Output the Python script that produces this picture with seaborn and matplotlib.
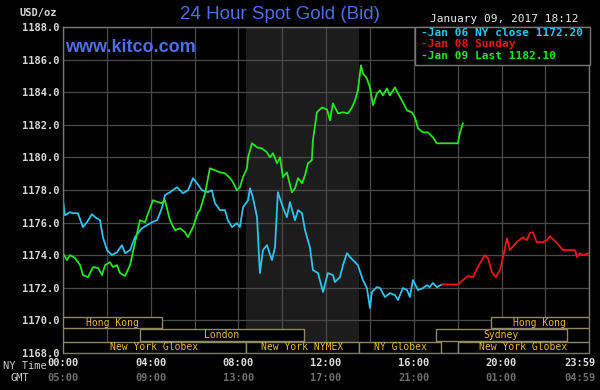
import pandas as pd
import matplotlib.pyplot as plt
import seaborn as sns
from matplotlib.patches import Rectangle
from matplotlib.transforms import offset_copy

# NY time in hours, bid in USD/oz
jan06_hour = [0.00, 0.09, 0.32, 0.46, 0.68, 0.91, 1.09, 1.32, 1.46, 1.69, 1.82, 2.01, 2.23, 2.46,
              2.69, 2.83, 3.06, 3.28, 3.60, 3.83, 4.06, 4.29, 4.51, 4.65, 4.88, 5.20, 5.47, 5.70,
              5.93, 6.11, 6.34, 6.61, 6.79, 6.93, 7.16, 7.39, 7.52, 7.71, 7.93, 8.07, 8.21, 8.44,
              8.53, 8.66, 8.85, 8.98, 9.12, 9.30, 9.53, 9.67, 9.80, 10.03, 10.21, 10.35, 10.58,
              10.72, 10.90, 11.04, 11.26, 11.40, 11.63, 11.86, 12.08, 12.31, 12.40, 12.63, 12.77,
              12.95, 13.09, 13.22, 13.45, 13.68, 13.86, 14.00, 14.09, 14.32, 14.46, 14.68, 14.91,
              15.14, 15.28, 15.50, 15.69, 15.82, 15.96, 16.19, 16.42, 16.60, 16.73, 16.87, 17.05,
              17.28]
jan06_bid = [1177.37, 1176.45, 1176.63, 1176.57, 1176.57, 1175.72, 1176.02, 1176.51, 1176.33,
             1176.14, 1175.10, 1174.31, 1174.00, 1174.18, 1174.61, 1174.12, 1174.31, 1175.10,
             1175.65, 1175.84, 1176.02, 1176.14, 1176.88, 1177.68, 1177.86, 1178.17, 1177.80,
             1177.98, 1178.72, 1178.41, 1177.98, 1177.86, 1177.98, 1177.19, 1176.76, 1176.76,
             1176.14, 1175.72, 1175.96, 1175.72, 1176.94, 1177.37, 1178.10, 1177.55, 1176.33,
             1172.90, 1174.31, 1174.61, 1173.70, 1174.49, 1177.86, 1176.94, 1176.33, 1177.25,
             1176.14, 1176.76, 1176.57, 1175.53, 1174.49, 1173.08, 1172.90, 1171.74, 1172.90,
             1172.78, 1172.35, 1172.65, 1173.39, 1174.12, 1173.88, 1173.70, 1173.39, 1172.47,
             1171.98, 1170.76, 1171.74, 1172.04, 1171.98, 1171.43, 1171.67, 1171.55, 1171.25,
             1171.98, 1171.86, 1171.43, 1172.47, 1171.86, 1171.98, 1172.16, 1172.04, 1172.29,
             1172.04, 1172.20]

jan08_hour = [17.28, 18.01, 18.24, 18.47, 18.70, 18.92, 19.24, 19.38, 19.56, 19.74, 19.93, 20.06,
              20.25, 20.38, 20.70, 20.98, 21.16, 21.29, 21.43, 21.61, 21.89, 22.07, 22.21, 22.53,
              22.80, 23.12, 23.35, 23.44, 23.58, 23.71, 23.98]
jan08_bid = [1172.20, 1172.20, 1172.47, 1172.72, 1172.65, 1173.27, 1174.00, 1173.82, 1172.96,
             1172.65, 1173.08, 1173.82, 1175.04, 1174.31, 1174.80, 1175.10, 1174.92, 1175.35,
             1175.41, 1174.80, 1174.80, 1174.92, 1175.16, 1174.74, 1174.31, 1174.31, 1174.31,
             1173.88, 1174.12, 1174.00, 1174.12]

jan09_hour = [0.00, 0.18, 0.32, 0.55, 0.78, 0.91, 1.14, 1.37, 1.60, 1.78, 1.92, 2.14, 2.28, 2.46,
              2.60, 2.83, 3.06, 3.28, 3.51, 3.74, 3.97, 4.10, 4.33, 4.51, 4.65, 4.88, 5.11, 5.34,
              5.56, 5.70, 5.93, 6.16, 6.25, 6.48, 6.70, 6.93, 7.16, 7.39, 7.62, 7.75, 7.93, 8.07,
              8.21, 8.39, 8.44, 8.62, 8.85, 9.07, 9.30, 9.44, 9.58, 9.76, 9.90, 10.03, 10.21,
              10.44, 10.58, 10.72, 10.90, 11.04, 11.17, 11.35, 11.40, 11.58, 11.81, 12.04, 12.18,
              12.31, 12.54, 12.77, 13.00, 13.18, 13.32, 13.45, 13.59, 13.68, 13.86, 14.00, 14.14,
              14.32, 14.46, 14.59, 14.77, 14.91, 15.14, 15.28, 15.46, 15.69, 15.91, 16.05, 16.19,
              16.42, 16.64, 16.87, 17.05, 18.01, 18.10, 18.24]
jan09_bid = [1174.12, 1173.70, 1174.00, 1173.82, 1173.39, 1172.78, 1172.65, 1173.27, 1173.21,
             1172.78, 1173.39, 1173.57, 1173.27, 1173.39, 1172.90, 1172.72, 1173.39, 1174.74,
             1176.14, 1176.02, 1176.88, 1177.37, 1177.25, 1177.19, 1177.37, 1176.14, 1175.53,
             1175.65, 1175.41, 1175.10, 1175.72, 1176.63, 1176.76, 1177.80, 1179.33, 1179.21,
             1179.08, 1179.02, 1178.72, 1178.47, 1177.98, 1178.17, 1178.78, 1179.33, 1180.00,
             1180.86, 1180.61, 1180.55, 1180.31, 1180.00, 1180.25, 1179.63, 1180.00, 1178.78,
             1179.08, 1177.86, 1178.10, 1178.72, 1178.41, 1178.90, 1179.63, 1179.82, 1181.04,
             1182.76, 1183.06, 1182.94, 1182.27, 1183.31, 1182.70, 1182.76, 1182.70, 1183.06,
             1183.49, 1184.11, 1185.64, 1185.15, 1184.84, 1184.29, 1183.19, 1183.92, 1184.11,
             1183.80, 1184.23, 1183.80, 1184.29, 1183.92, 1183.49, 1182.88, 1182.76, 1182.45,
             1181.78, 1181.53, 1181.53, 1181.23, 1180.86, 1180.86, 1181.47, 1182.10]

price_ticks = [1168, 1170, 1172, 1174, 1176, 1178, 1180, 1182, 1184, 1186, 1188]
ny_ticks = [0, 4, 8, 12, 16, 20, 23 + 59 / 60]
ny_labels = ["00:00", "04:00", "08:00", "12:00", "16:00", "20:00", "23:59"]
gmt_labels = ["05:00", "09:00", "13:00", "17:00", "21:00", "01:00", "04:59"]

session_names = ["Hong Kong", "Hong Kong", "London", "Sydney",
                 "New York Globex", "New York NYMEX", "NY Globex", "New York Globex"]
session_start = [0, 19.5, 3.5, 17, 0, 8 + 20 / 60, 13.5, 18]
session_end = [4.5, 24, 11, 23, 8 + 20 / 60, 13.5, 17.25, 24]
session_row = [2, 2, 1, 1, 0, 0, 0, 0]

legend_labels = ["-Jan 06 NY close 1172.20", "-Jan 08 Sunday", "-Jan 09 Last 1182.10"]
palette = {"Jan 06": "#2cc3ee", "Jan 08": "#ee1515", "Jan 09": "#25e61e"}

df = pd.concat([
    pd.DataFrame({"hour": jan06_hour, "bid": jan06_bid, "day": "Jan 06"}),
    pd.DataFrame({"hour": jan08_hour, "bid": jan08_bid, "day": "Jan 08"}),
    pd.DataFrame({"hour": jan09_hour, "bid": jan09_bid, "day": "Jan 09"}),
], ignore_index=True)

sns.set_style("dark", {"axes.facecolor": "black", "figure.facecolor": "black",
                       "grid.color": "#4a4a4a", "axes.edgecolor": "#777777"})
mono = "DejaVu Sans Mono"

fig = plt.figure(figsize=(6, 3.9), dpi=100)
ax = fig.add_axes([0.105, 0.095, 0.877, 0.836])
ax.axvspan(8 + 20 / 60, 13.5, color="#1c1c1c", zorder=0.2, lw=0)
sns.lineplot(data=df, x="hour", y="bid", hue="day", palette=palette, estimator=None,
             sort=False, linewidth=1.3, legend=False, ax=ax, zorder=2)

ax.set_xlim(0, 24)
ax.set_ylim(1168, 1188)
ax.set_xticks(range(0, 25, 2))
ax.set_xticklabels([])
ax.set_yticks(price_ticks)
ax.set_yticklabels([f"{v:.1f}" for v in price_ticks], fontfamily=mono,
                   fontsize=7.5, color="#d8d8d8", fontweight="bold")
ax.grid(True, color="#4a4a4a", lw=0.9)
ax.tick_params(length=0, pad=2.5)
ax.set_xlabel("")
ax.set_ylabel("")
for s in ax.spines.values():
    s.set_visible(True)
    s.set_color("#777777")
    s.set_linewidth(1)

# trading sessions along the bottom
tr = ax.get_xaxis_transform()
row_y = [0.0, 0.037, 0.0755]
for name, a, b, r in zip(session_names, session_start, session_end, session_row):
    ax.add_patch(Rectangle((a, row_y[r]), b - a, 0.035, transform=tr, facecolor="black",
                           edgecolor="#8f8a62", lw=1, zorder=3))
    ax.text((a + b) / 2, row_y[r] + 0.0175, name, transform=tr, ha="center", va="center",
            fontfamily=mono, fontsize=7, color="#e6b93a", zorder=4)

# two rows of time labels; the last one sits a little left so it stays inside
for i, (t, ny, gmt) in enumerate(zip(ny_ticks, ny_labels, gmt_labels)):
    ttr = offset_copy(tr, fig=fig, x=-9 if i == len(ny_ticks) - 1 else 0, units="dots")
    ax.text(t, -0.031, ny, transform=ttr, ha="center", va="center", fontfamily=mono,
            fontsize=7.5, fontweight="bold", color="#dcdcdc", clip_on=False)
    ax.text(t, -0.077, gmt, transform=ttr, ha="center", va="center", fontfamily=mono,
            fontsize=7.5, fontweight="bold", color="#6e6e6e", clip_on=False)
fig.text(0.005, 0.062, "NY Time", fontfamily=mono, fontsize=7.5, color="#cccccc", va="center")
fig.text(0.018, 0.031, "GMT", fontfamily=mono, fontsize=7.5, color="#cccccc", va="center")

fig.text(0.467, 0.962, "24 Hour Spot Gold (Bid)", fontfamily="Liberation Sans",
         fontsize=13.5, color="#4f6fe6", ha="center", va="center")
fig.text(0.108, 0.879, "www.kitco.com", fontfamily="Liberation Sans", fontsize=13,
         fontweight="bold", color="#4f6fe6", ha="left", va="center")
fig.text(0.033, 0.967, "USD/oz", fontfamily=mono, fontsize=7.5, fontweight="bold",
         color="#d8d8d8", va="center")
fig.text(0.965, 0.951, "January 09, 2017 18:12", fontfamily=mono, fontsize=8,
         color="#e8e8e8", ha="right", va="center")

fig.add_artist(Rectangle((0.692, 0.833), 0.291, 0.098, transform=fig.transFigure,
                         facecolor="black", edgecolor="#777777", lw=1, zorder=4))
for label, color, y in zip(legend_labels, palette.values(), [0.915, 0.887, 0.856]):
    fig.text(0.702, y, label, fontfamily=mono, fontsize=8, fontweight="bold",
             color=color, va="center", zorder=5)

plt.savefig("out.png", dpi=100, facecolor="black")
